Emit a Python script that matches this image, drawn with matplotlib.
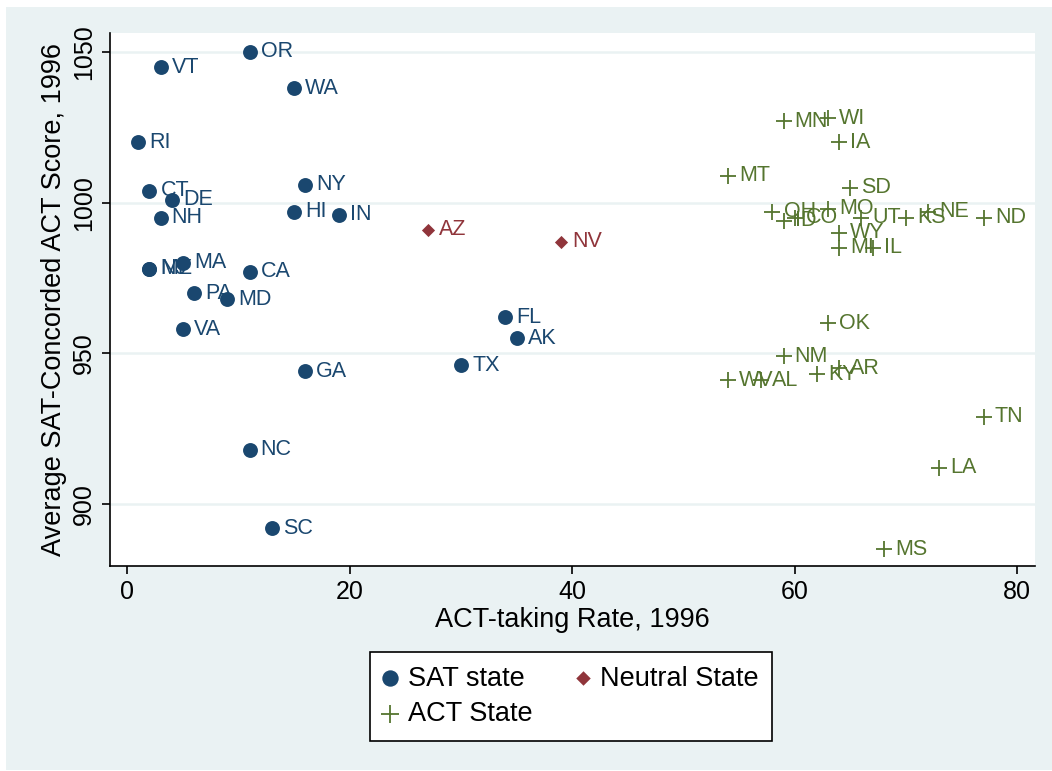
import matplotlib.pyplot as plt
from matplotlib.patches import Rectangle

# SAT states (circles)
sat_states = ["OR", "VT", "WA", "RI", "CT", "DE", "NH", "NY", "HI", "IN", "MA", "ME", "NJ",
              "CA", "PA", "MD", "VA", "FL", "AK", "TX", "GA", "NC", "SC"]
sat_rate = [11, 3, 15, 1, 2, 4, 3, 16, 15, 19, 5, 2, 2, 11, 6, 9, 5, 34, 35, 30, 16, 11, 13]
sat_score = [1050, 1045, 1038, 1020, 1004, 1001, 995, 1006, 997, 996, 980, 978, 978,
             977, 970, 968, 958, 962, 955, 946, 944, 918, 892]

# neutral states (diamonds)
neu_states = ["AZ", "NV"]
neu_rate = [27, 39]
neu_score = [991, 987]

# ACT states (plus)
act_states = ["MN", "WI", "IA", "MT", "SD", "OH", "ID", "CO", "MO", "UT", "KS", "NE", "ND",
              "WY", "MI", "IL", "OK", "NM", "AR", "KY", "WV", "AL", "TN", "LA", "MS"]
act_rate = [59, 63, 64, 54, 65, 58, 59, 60, 63, 66, 70, 72, 77,
            64, 64, 67, 63, 59, 64, 62, 54, 57, 77, 73, 68]
act_score = [1027, 1028, 1020, 1009, 1005, 997, 994, 995, 998, 995, 995, 997, 995,
             990, 985, 985, 960, 949, 945, 943, 941, 941, 929, 912, 885]

blue = "#1A476F"
red = "#90353B"
green = "#55752F"
bg = "#EAF2F3"

plt.rcParams['font.family'] = ['Liberation Sans', 'DejaVu Sans']

fig = plt.figure(figsize=(10.52, 7.71), dpi=100)
fig.patch.set_facecolor("white")
fig.patches.append(Rectangle((6 / 1052, 0.0013), 1 - 6 / 1052, 1 - 7 / 771 - 0.0013,
                             transform=fig.transFigure, facecolor=bg, edgecolor="none", zorder=-10))

ax = fig.add_axes([110 / 1052, 1 - 566 / 771, 925 / 1052, 533 / 771])
ax.set_facecolor("white")

h_sat = ax.scatter(sat_rate, sat_score, s=115, marker="o", color=blue, linewidths=0, zorder=3,
                   label="SAT state")
h_neu = ax.scatter(neu_rate, neu_score, s=45, marker="D", color=red, linewidths=0, zorder=3,
                   label="Neutral State")
h_act = ax.scatter(act_rate, act_score, s=140, marker="+", color=green, linewidths=1.3, zorder=3,
                   label="ACT State")

# state labels to the right of each marker
for names, xs, ys, c in [(sat_states, sat_rate, sat_score, blue),
                         (neu_states, neu_rate, neu_score, red),
                         (act_states, act_rate, act_score, green)]:
    for n, x, y in zip(names, xs, ys):
        ax.annotate(n, (x, y), xytext=(8, 0), textcoords="offset points",
                    va="center", ha="left", fontsize=15.5, color=c, zorder=4)

ax.set_xlim(-1.55, 81.6)
ax.set_ylim(879.4, 1056.3)
ax.set_xticks([0, 20, 40, 60, 80])
ax.set_yticks([900, 950, 1000, 1050])
ax.grid(axis="y", color=bg, linewidth=1.8, zorder=0)
ax.set_axisbelow(True)
for s in ["top", "right"]:
    ax.spines[s].set_visible(False)
for s in ["left", "bottom"]:
    ax.spines[s].set_linewidth(1.2)
ax.tick_params(labelsize=18, length=6, width=1.2, pad=4)
plt.setp(ax.get_yticklabels(), rotation=90, va="center")

ax.set_xlabel("ACT-taking Rate, 1996", fontsize=19.5, labelpad=2)
ax.set_ylabel("Average SAT-Concorded ACT Score, 1996", fontsize=19.5, labelpad=4)

leg = fig.legend([h_sat, h_act, h_neu], ["SAT state", "ACT State", "Neutral State"],
                 loc="upper left", bbox_to_anchor=(370 / 1052, 1 - 652 / 771), ncol=2,
                 fontsize=19.5, frameon=True, fancybox=False, edgecolor="black",
                 facecolor="white", framealpha=1, borderaxespad=0, markerscale=1.1,
                 handletextpad=0.4, columnspacing=1.6, borderpad=0.5, labelspacing=0.35,
                 handlelength=0.5)
leg.get_frame().set_linewidth(1.2)

fig.savefig("out.png", dpi=100)
